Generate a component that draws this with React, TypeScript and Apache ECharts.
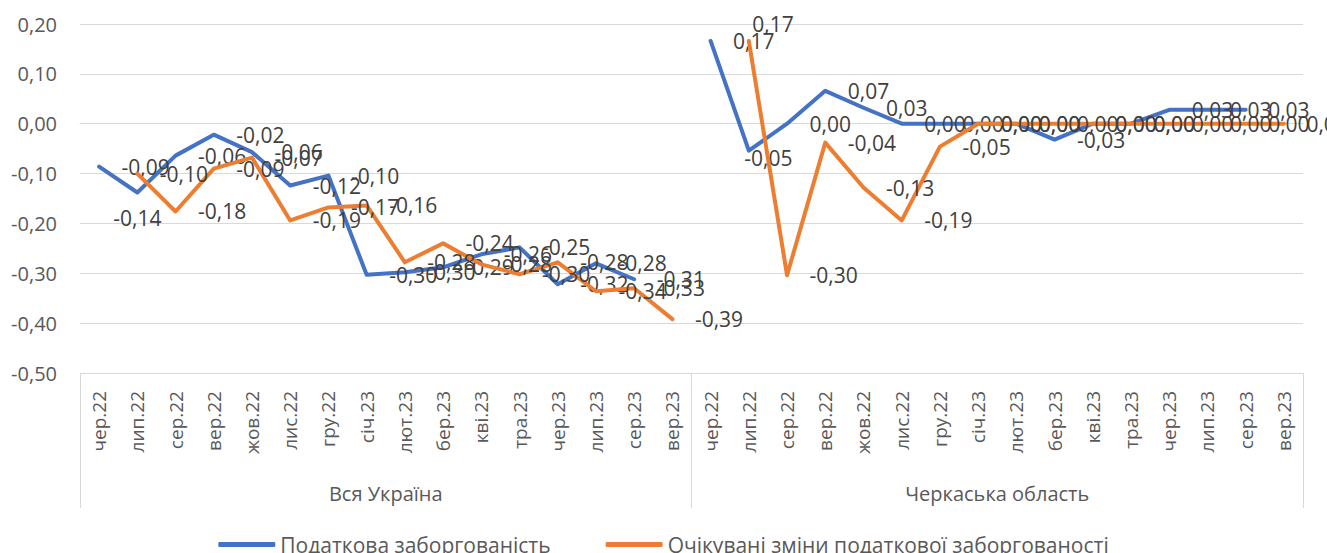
import React, { useEffect, useRef } from 'react';
import * as echarts from 'echarts';

const groups = ['Вся Україна', 'Черкаська область'];
const months = ['чер.22', 'лип.22', 'сер.22', 'вер.22', 'жов.22', 'лис.22', 'гру.22', 'січ.23', 'лют.23', 'бер.23', 'кві.23', 'тра.23', 'чер.23', 'лип.23', 'сер.23', 'вер.23'];
const seriesNames = ['Податкова заборгованість', 'Очікувані зміни податкової заборгованості'];

// Податкова заборгованість
const debtUkraine = [-0.086, -0.138, -0.064, -0.022, -0.057, -0.124, -0.104, -0.303, -0.298, -0.288, -0.262, -0.248, -0.322, -0.28, -0.312, null];
const debtCherkasy = [0.166, -0.054, 0, 0.066, 0.032, 0, 0, 0, 0, -0.032, 0, 0, 0.028, 0.028, 0.028, null];
// Очікувані зміни податкової заборгованості
const expectedUkraine = [null, -0.1, -0.176, -0.09, -0.068, -0.194, -0.168, -0.164, -0.278, -0.24, -0.282, -0.302, -0.278, -0.336, -0.33, -0.392];
const expectedCherkasy = [null, 0.166, -0.304, -0.038, -0.128, -0.194, -0.046, 0, 0, 0, 0, 0, 0, 0, 0, 0];

const yMin = -0.5;
const yMax = 0.2;
const yStep = 0.1;

const colors = ['#4472C4', '#ED7D31'];
const FONT = '"Open Sans", "Noto Sans", sans-serif';

const fmt = (v: number) => {
  const r = Math.round(v * 100) / 100;
  return (r === 0 ? 0 : r).toFixed(2).replace('.', ',');
};

export default function App() {
  const ref = useRef<HTMLDivElement>(null);

  useEffect(() => {
    const chart = echarts.init(ref.current!, null, { renderer: 'svg' });
    const categories = [...months, ...months];
    const blue = [...debtUkraine, ...debtCherkasy];
    const orange = [...expectedUkraine, ...expectedCherkasy];

    const overrides: Record<string, any> = {
      '0-1': { position: 'bottom', distance: 14 },
      '0-17': { position: 'right', offset: [-27, 7] },
      '1-17': { position: 'right', offset: [-19, -17] },
    };

    const build = (arr: (number | null)[], s: number) =>
      arr.map((v, i) => {
        if (v === null) return '-';
        const o = overrides[`${s}-${i}`];
        return o ? { value: v, label: o } : v;
      });

    const mkSeries = (arr: (number | null)[], s: number) => ({
      name: seriesNames[s],
      type: 'line',
      data: build(arr, s),
      xAxisIndex: 0,
      color: colors[s],
      symbol: 'circle',
      symbolSize: 1,
      showSymbol: true,
      connectNulls: false,
      lineStyle: { width: 4, color: colors[s], cap: 'round', join: 'round' },
      label: {
        show: true,
        position: 'right',
        distance: 22,
        fontSize: 21,
        fontFamily: FONT,
        color: '#404040',
        formatter: (p: any) => fmt(Number(p.value)),
      },
      z: 3 + s,
    });

    chart.setOption({
      animation: false,
      backgroundColor: '#ffffff',
      grid: { left: 80, right: 24, top: 24, bottom: 180, containLabel: false },
      legend: {
        data: seriesNames,
        left: 'center',
        top: 529,
        icon: 'roundRect',
        itemWidth: 57,
        itemHeight: 5,
        itemGap: 55,
        textStyle: { fontSize: 21, color: '#595959', fontFamily: FONT },
      },
      xAxis: [
        {
          type: 'category',
          data: categories,
          position: 'bottom',
          boundaryGap: true,
          axisLine: { show: true, lineStyle: { color: '#d9d9d9', width: 1 } },
          axisTick: { show: false },
          axisLabel: {
            interval: 0,
            rotate: 90,
            margin: 18,
            fontSize: 19,
            fontFamily: FONT,
            color: '#595959',
          },
          splitLine: { show: false },
        },
        {
          type: 'category',
          data: groups,
          position: 'bottom',
          boundaryGap: true,
          axisLine: { show: false },
          axisTick: { show: true, length: 135, lineStyle: { color: '#d9d9d9', width: 1 } },
          axisLabel: {
            interval: 0,
            margin: 110,
            fontSize: 20,
            fontFamily: FONT,
            color: '#595959',
          },
          splitLine: { show: false },
        },
      ],
      yAxis: {
        type: 'value',
        min: yMin,
        max: yMax,
        interval: yStep,
        axisLine: { show: false },
        axisTick: { show: false },
        axisLabel: {
          margin: 23,
          fontSize: 20,
          fontFamily: FONT,
          color: '#595959',
          formatter: (v: number) => fmt(v),
        },
        splitLine: { lineStyle: { color: '#d9d9d9', width: 1 } },
      },
      series: [mkSeries(blue, 0), mkSeries(orange, 1)],
    });

    return () => chart.dispose();
  }, []);

  return (
    <div
      ref={ref}
      style={{ position: 'fixed', left: 0, top: 0, width: 1327, height: 553, background: '#fff' }}
    />
  );
}
